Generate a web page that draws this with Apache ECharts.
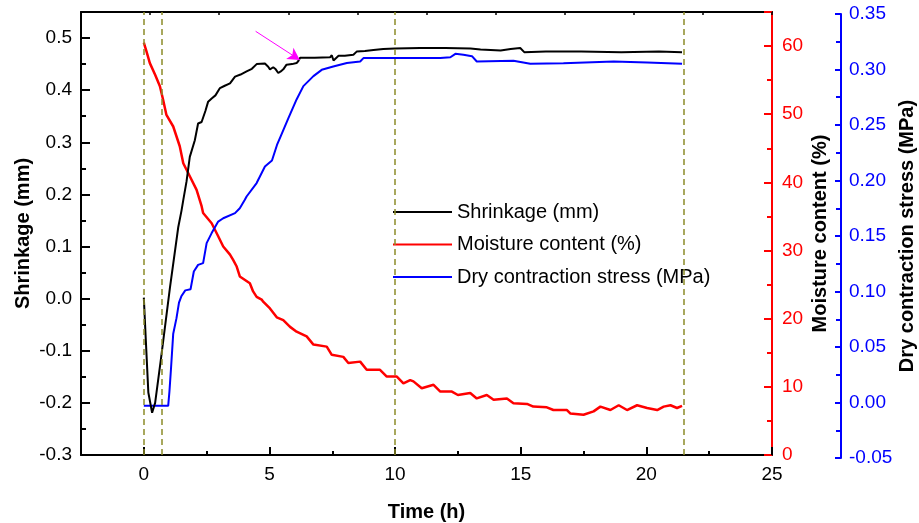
<!DOCTYPE html>
<html>
<head>
<meta charset="utf-8">
<script src="https://cdn.jsdelivr.net/npm/echarts@6/dist/echarts.min.js"></script>
<style>html,body{margin:0;padding:0;background:#fff}#c{width:919px;height:523px}</style>
</head>
<body>
<div id="c"></div>
<script>
// ---- data ----
const shrinkT = [0,0.08,0.18,0.33,0.45,0.67,1.04,1.37,1.5,1.57,1.7,1.83,2.03,2.16,2.3,2.45,2.56,2.7,2.85,3.03,3.2,3.43,3.63,3.85,4.09,4.3,4.49,4.82,4.95,5.02,5.15,5.25,5.35,5.45,5.55,5.68,5.9,6.08,6.15,6.22,6.8,7.41,7.48,7.55,7.61,7.75,8.0,8.34,8.47,8.8,9.14,9.53,10.0,11.0,12.0,13.0,13.4,14.2,14.6,14.98,15.14,16.0,17.4,19.0,20.5,21.42];
const shrinkV = [0.002,-0.08,-0.18,-0.219,-0.2,-0.12,0.021,0.137,0.169,0.189,0.225,0.272,0.304,0.336,0.339,0.36,0.378,0.384,0.39,0.404,0.408,0.413,0.426,0.43,0.436,0.441,0.45,0.451,0.445,0.44,0.444,0.44,0.433,0.436,0.44,0.449,0.45,0.452,0.456,0.462,0.462,0.463,0.467,0.457,0.455,0.466,0.466,0.468,0.474,0.475,0.477,0.479,0.48,0.481,0.481,0.48,0.478,0.476,0.479,0.481,0.473,0.474,0.474,0.473,0.474,0.473];

const moistT = [0,0.1,0.24,0.45,0.64,0.77,0.9,1.17,1.43,1.57,1.83,2.1,2.3,2.36,2.7,2.96,3.16,3.43,3.56,3.69,3.82,4.22,4.35,4.49,4.69,4.75,5.02,5.29,5.55,5.82,6.08,6.48,6.75,7.28,7.48,7.94,8.14,8.61,8.87,9.4,9.67,10.07,10.33,10.6,10.73,11.06,11.53,11.8,12.26,12.5,12.99,13.25,13.65,13.92,14.45,14.71,15.25,15.5,16.04,16.3,16.84,16.97,17.5,17.9,18.17,18.57,18.9,19.23,19.63,20.03,20.43,20.69,20.96,21.22,21.42];
const moistV = [60.5,59.3,57.5,55.8,54.1,52.1,49.9,48.2,45.3,42.8,40.9,38.9,36.5,35.5,34,32.1,30.6,29.4,28.6,27.7,26.2,25.2,24,23.2,22.8,22.5,21.5,20.2,19.8,18.8,18.1,17.4,16.2,15.9,14.7,14.4,13.5,13.7,12.5,12.5,11.5,11.5,10.5,11,10.8,9.8,10.3,9.3,9.3,8.8,9.1,8.3,8.8,8.1,8.3,7.6,7.5,7.1,7.0,6.6,6.6,6.1,5.9,6.4,7.1,6.6,7.3,6.6,7.3,6.9,6.6,7.1,7.3,6.9,7.2];

const stressT = [0,0.97,1.02,1.08,1.17,1.3,1.4,1.5,1.65,1.86,1.99,2.16,2.36,2.5,2.7,2.96,3.16,3.63,3.82,4.02,4.09,4.49,4.82,5.1,5.3,5.45,5.75,6.08,6.35,6.75,7.08,7.54,8.08,8.61,8.74,11.0,11.8,12.2,12.4,12.72,13.06,13.25,14.71,15.38,16.7,18.7,20.03,21.42];
const stressV = [-0.003,-0.003,0.01,0.03,0.062,0.076,0.09,0.096,0.101,0.102,0.118,0.124,0.1256,0.1436,0.1526,0.163,0.166,0.1706,0.175,0.1826,0.1856,0.1977,0.2126,0.218,0.232,0.24,0.256,0.273,0.285,0.294,0.2997,0.3027,0.3058,0.3072,0.3103,0.3103,0.3103,0.311,0.3141,0.3132,0.312,0.3072,0.3078,0.3051,0.3057,0.3072,0.3063,0.3051];

const stageTimes = [0, 0.7, 10, 21.5];
const stageLabels = [[-0.44,0.522,'a'],[1.2,0.518,'b'],[8.8,0.522,'c'],[21.95,0.513,'d']];
const arrowFrom = [4.45, 0.513];
const arrowTo = [6.21, 0.458];

const seriesNames = ['Shrinkage (mm)','Moisture content (%)','Dry contraction stress (MPa)'];
// ---------------------------------------

const zip = (a,b) => a.map((t,i)=>[t,b[i]]);
const FONT = '"Liberation Sans", Arial, sans-serif';
const olive = '#8c8c28';

const chart = echarts.init(document.getElementById('c'), null, {renderer:'canvas'});
const tickLab = (c)=>({color:c, fontSize:19, fontFamily:FONT});
const nameSt = {color:'#000', fontSize:20, fontWeight:'bold', fontFamily:FONT};

chart.setOption({
  animation:false,
  backgroundColor:'#fff',
  grid:[
    {left:81, right:147, top:12, bottom:68, containLabel:false, outerBoundsMode:'none'},
    {left:81, right:147, top:14, bottom:65, containLabel:false, outerBoundsMode:'none'}
  ],
  legend:{
    data:seriesNames, orient:'vertical', left:388, top:196,
    itemWidth:59, itemHeight:14, itemGap:10.5,
    textStyle:{fontSize:20, color:'#000', fontFamily:FONT, lineHeight:22},
    icon:'path://M0,6 L59,6 L59,8 L0,8 Z'
  },
  xAxis:[
    {type:'value', gridIndex:0, min:-2.5, max:25, position:'bottom',
     name:'Time (h)', nameLocation:'middle', nameGap:47, nameMoveOverlap:false, nameTextStyle:nameSt,
     axisLine:{onZero:false, lineStyle:{color:'#000', width:2}},
     axisTick:{inside:true, length:8, lineStyle:{width:2}},
     minorTick:{show:true, splitNumber:2, length:4, lineStyle:{color:'#000', width:2}},
     splitLine:{show:false},
     axisLabel:{...tickLab('#000'), margin:10, formatter:v=> (v>=0 && Math.abs(v%5)<1e-6) ? String(v) : ''}},
    {type:'value', gridIndex:0, min:0, max:10, interval:1, position:'top',
     axisLine:{onZero:false, lineStyle:{color:'#000', width:2}},
     axisTick:{inside:true, length:3, lineStyle:{width:1.5}},
     axisLabel:{show:false}, splitLine:{show:false}},
    {type:'value', gridIndex:1, min:-2.5, max:25, show:false, axisLine:{onZero:false}, splitLine:{show:false}}
  ],
  yAxis:[
    {type:'value', gridIndex:0, min:-0.3, max:0.55, interval:0.1, position:'left',
     name:'Shrinkage (mm)', nameLocation:'middle', nameRotate:90, nameGap:48, nameMoveOverlap:false, nameTextStyle:nameSt,
     axisLine:{show:true, onZero:false, lineStyle:{color:'#000', width:2}},
     axisTick:{inside:true, length:9, lineStyle:{width:2}},
     minorTick:{show:true, splitNumber:2, length:5, lineStyle:{color:'#000', width:2}},
     splitLine:{show:false},
     axisLabel:{...tickLab('#000'), margin:9, showMaxLabel:false, formatter:v=>v.toFixed(1)}},
    {type:'value', gridIndex:0, min:0, max:65, interval:10, position:'right',
     name:'Moisture content (%)', nameLocation:'middle', nameRotate:90, nameGap:38, nameMoveOverlap:false, nameTextStyle:nameSt,
     axisLine:{show:true, onZero:false, lineStyle:{color:'#ff0000', width:2}},
     axisTick:{inside:true, length:8, lineStyle:{color:'#ff0000', width:2}},
     minorTick:{show:true, splitNumber:2, length:5, lineStyle:{color:'#ff0000', width:2}},
     splitLine:{show:false},
     axisLabel:{...tickLab('#ff0000'), margin:10, showMaxLabel:false, formatter:v=>String(Math.round(v))}},
    {type:'value', gridIndex:1, min:-0.05, max:0.35, interval:0.05, position:'right', offset:69,
     name:'Dry contraction stress (MPa)', nameLocation:'middle', nameRotate:90, nameGap:56, nameMoveOverlap:false, nameTextStyle:nameSt,
     axisLine:{show:true, onZero:false, lineStyle:{color:'#0000ff', width:2}},
     axisTick:{inside:true, length:6, lineStyle:{color:'#0000ff', width:2}},
     minorTick:{show:true, splitNumber:2, length:5, lineStyle:{color:'#0000ff', width:2}},
     splitLine:{show:false},
     axisLabel:{...tickLab('#0000ff'), margin:8, formatter:v=>v.toFixed(2)}}
  ],
  series:[
    {name:seriesNames[0], type:'line', xAxisIndex:0, yAxisIndex:0, data:zip(shrinkT,shrinkV),
     symbol:'none', color:'#000', lineStyle:{color:'#000', width:2}, z:4,
     markLine:{silent:true, symbol:['none','none'], label:{show:false},
       lineStyle:{color:olive, type:[6,4], width:1.5},
       data: stageTimes.map(t=>({xAxis:t}))}},
    {name:seriesNames[1], type:'line', xAxisIndex:0, yAxisIndex:1, data:zip(moistT,moistV),
     symbol:'none', color:'#ff0000', lineStyle:{color:'#ff0000', width:2.5}, z:3},
    {name:seriesNames[2], type:'line', xAxisIndex:2, yAxisIndex:2, data:zip(stressT,stressV),
     symbol:'none', color:'#0000ff', lineStyle:{color:'#0000ff', width:2}, z:3},
    {name:'labels', type:'scatter', xAxisIndex:0, yAxisIndex:0, data:stageLabels,
     symbolSize:1, itemStyle:{opacity:0}, silent:true,
     label:{show:true, position:'inside', formatter:p=>p.value[2], color:'#111', fontSize:21, fontFamily:FONT},
     markLine:{silent:true, symbol:['none','arrow'], symbolSize:[10,12], label:{show:false},
       lineStyle:{color:'#ff00ff', width:1, type:'solid'},
       data:[[{coord:arrowFrom},{coord:arrowTo}]]}}
  ]
});
</script>
</body>
</html>
